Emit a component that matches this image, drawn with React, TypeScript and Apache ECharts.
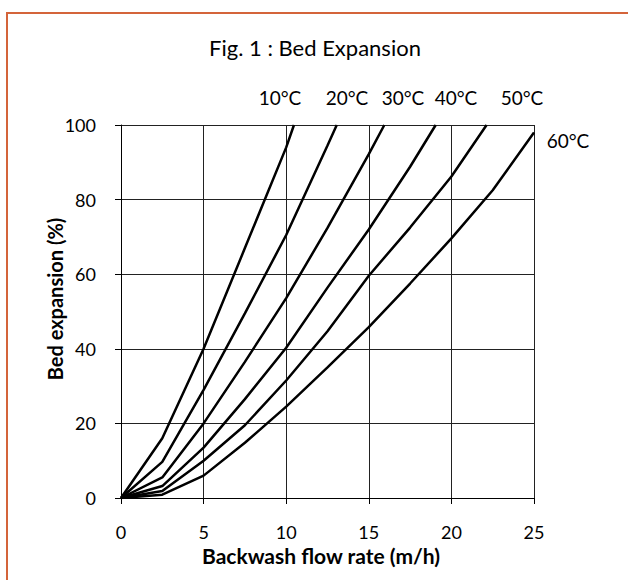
import React, { useEffect, useRef } from "react";
import * as echarts from "echarts";

const temperatures = ["10°C", "20°C", "30°C", "40°C", "50°C", "60°C"];
const flow10 = [0, 2.5, 5, 7.5, 10, 10.47];
const exp10 = [0, 16, 40, 67, 94, 100];
const flow20 = [0, 2.5, 5, 7.5, 10, 12.5, 13.06];
const exp20 = [0, 9.7, 29, 49.5, 70.5, 94.5, 100];
const flow30 = [0, 2.5, 5, 7.5, 10, 12.5, 15, 15.94];
const exp30 = [0, 5.5, 20, 36.5, 53.6, 72.4, 92.2, 100];
const flow40 = [0, 2.5, 5, 7.5, 10, 12.5, 15, 17.5, 19.05];
const exp40 = [0, 3.2, 13.5, 26.5, 40.3, 56.4, 72, 88.8, 100];
const flow50 = [0, 2.5, 5, 7.5, 10, 12.5, 15, 17.5, 20, 22.13];
const exp50 = [0, 1.9, 10, 19.5, 31.5, 44.7, 59.6, 72.5, 86.2, 100];
const flow60 = [0, 2.5, 5, 7.5, 10, 12.5, 15, 17.5, 20, 22.5, 25];
const exp60 = [0, 0.9, 6, 14.8, 24.5, 35, 45.8, 57.5, 69.6, 82.5, 98];

const xTicks = [0, 5, 10, 15, 20, 25];
const yTicks = [0, 20, 40, 60, 80, 100];

const flows = [flow10, flow20, flow30, flow40, flow50, flow60];
const exps = [exp10, exp20, exp30, exp40, exp50, exp60];

const FONT = "Lato";

export default function App() {
  const ref = useRef<HTMLDivElement>(null);
  useEffect(() => {
    document.body.style.margin = "0";
    const chart = echarts.init(ref.current!, null, { renderer: "svg" });
    const labelPos = [
      [280, 97],
      [347, 97],
      [403, 97],
      [456, 97],
      [522, 97],
      [568, 140],
    ];
    chart.setOption({
      animation: false,
      backgroundColor: "#fff",
      grid: { left: 121, right: 94, top: 125, bottom: 82, containLabel: false },
      xAxis: {
        type: "value",
        min: xTicks[0],
        max: xTicks[xTicks.length - 1],
        interval: 5,
        axisLine: { show: true, lineStyle: { color: "#000", width: 1 } },
        axisTick: { show: true, length: 6, lineStyle: { color: "#000" } },
        axisLabel: { margin: 26, fontFamily: FONT, fontSize: 18, lineHeight: 15, color: "#000" },
        splitLine: { show: true, lineStyle: { color: "#222", width: 1 } },
      },
      yAxis: {
        type: "value",
        min: yTicks[0],
        max: yTicks[yTicks.length - 1],
        interval: 20,
        axisLine: { show: true, lineStyle: { color: "#000", width: 1 } },
        axisTick: { show: true, length: 6, lineStyle: { color: "#000" } },
        axisLabel: { margin: 25, fontFamily: FONT, fontSize: 18, color: "#000" },
        splitLine: { show: true, lineStyle: { color: "#222", width: 1 } },
      },
      series: temperatures.map((t, i) => ({
        type: "line",
        name: t,
        data: flows[i].map((x, j) => [x, exps[i][j]]),
        showSymbol: false,
        symbol: "none",
        lineStyle: { color: "#000", width: 2.5 },
        itemStyle: { color: "#000" },
      })),
      graphic: [
        {
          type: "rect",
          shape: { x: 7, y: 13, width: 800, height: 800 },
          style: { fill: "none", stroke: "#d4643a", lineWidth: 2 },
          silent: true,
        },
        {
          type: "text",
          x: 315,
          y: 47,
          style: {
            text: "Fig. 1 : Bed Expansion",
            fontFamily: FONT,
            fontSize: 22,
            fill: "#000",
            align: "center",
            verticalAlign: "middle",
          },
        },
        {
          type: "text",
          x: 321,
          y: 555,
          style: {
            text: "Backwash flow rate (m/h)",
            fontFamily: FONT,
            fontSize: 21,
            lineHeight: 18,
            fontWeight: "bold",
            fill: "#000",
            align: "center",
            verticalAlign: "middle",
          },
        },
        {
          type: "text",
          x: 55,
          y: 299,
          rotation: Math.PI / 2,
          style: {
            text: "Bed expansion (%)",
            fontFamily: FONT,
            fontSize: 20,
            fontWeight: "bold",
            fill: "#000",
            align: "center",
            verticalAlign: "middle",
          },
        },
        ...temperatures.map((t, i) => ({
          type: "text",
          x: labelPos[i][0],
          y: labelPos[i][1],
          style: {
            text: t,
            fontFamily: FONT,
            fontSize: 19,
            fill: "#000",
            align: "center",
            verticalAlign: "middle",
          },
        })),
      ],
    });
    return () => chart.dispose();
  }, []);
  return <div ref={ref} style={{ width: 628, height: 580 }} />;
}
